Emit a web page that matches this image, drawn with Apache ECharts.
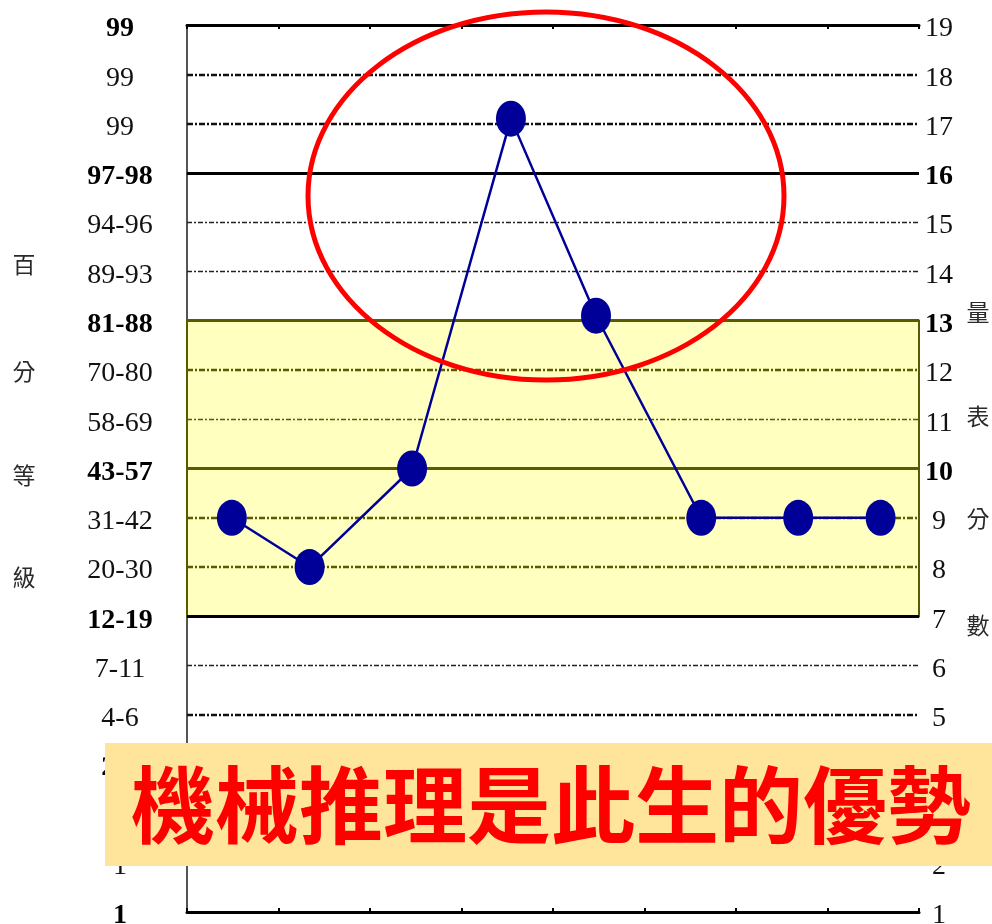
<!DOCTYPE html>
<html>
<head>
<meta charset="utf-8">
<script src="https://cdn.jsdelivr.net/npm/echarts@6/dist/echarts.min.js"></script>
<style>html,body{margin:0;padding:0;background:#fff;}#c{width:992px;height:924px;}</style>
</head>
<body>
<div id="c"></div>
<script>
// ---- data ----
const xPositions = [0.49, 1.34, 2.46, 3.54, 4.47, 5.62, 6.68, 7.58];
const scaleScores = [9, 8, 10, 17.1, 13.1, 9, 9, 9];
// percentile labels indexed by scale score - 1 (score 1..19)
const percentileLabels = ['1','1','1','2-3','4-6','7-11','12-19','20-30','31-42','43-57','58-69','70-80','81-88','89-93','94-96','97-98','99','99','99'];
const percentileBold = [1, 4, 7, 10, 13, 16, 19];
const scoreBold = [10, 13, 16];
const solidLevels = [4, 7, 10, 13, 16];
const heavyDashLevels = [18, 17, 12, 9, 8, 5, 2];
const lightDashLevels = [15, 14, 11, 6, 3];
const bandRange = [7, 13];
const leftTitle = ['百', '分', '等', '級'];
const rightTitle = ['量', '表', '分', '數'];
const banner = '機械推理是此生的優勢';

const inBand = v => v > bandRange[0] && v <= bandRange[1];
const olive = '#5a5a00';
const markLines = [];
solidLevels.forEach(v => markLines.push({yAxis: v, lineStyle: {type: 'solid', width: 3, color: inBand(v) ? olive : '#000'}}));
heavyDashLevels.forEach(v => markLines.push({yAxis: v, lineStyle: {type: [6, 2, 2, 2], width: 2.4, color: inBand(v) ? olive : '#111'}}));
lightDashLevels.forEach(v => markLines.push({yAxis: v, lineStyle: {type: [5, 2, 2, 2], width: 1.3, color: inBand(v) ? olive : '#222'}}));

const chart = echarts.init(document.getElementById('c'), null, {renderer: 'canvas'});
const serif = '"Liberation Serif", "Times New Roman", serif';
const cjk = '"Noto Sans CJK TC", "Noto Sans CJK SC", sans-serif';

const titleGraphics = [];
const leftY = [264, 371, 475, 577];
const rightY = [312, 416, 518, 625];
leftTitle.forEach((t, i) => titleGraphics.push({type: 'text', x: 24, y: leftY[i], style: {text: t, font: '23px ' + cjk, fill: '#2a2a2a', align: 'center', verticalAlign: 'middle'}}));
rightTitle.forEach((t, i) => titleGraphics.push({type: 'text', x: 978, y: rightY[i], style: {text: t, font: '23px ' + cjk, fill: '#2a2a2a', align: 'center', verticalAlign: 'middle'}}));

const richStyles = {
  b: {fontFamily: serif, fontSize: 28, fontWeight: 'bold', color: '#000', padding: [8, 0, 0, 0]},
  n: {fontFamily: serif, fontSize: 28, color: '#111', padding: [8, 0, 0, 0]}
};

chart.setOption({
  animation: false,
  backgroundColor: '#fff',
  grid: {left: 187, right: 73, top: 25, bottom: 12, containLabel: false, outerBoundsMode: 'none'},
  xAxis: [
    {type: 'value', min: 0, max: 8, interval: 1, position: 'bottom',
     axisLine: {show: true, lineStyle: {color: '#000', width: 3}},
     axisTick: {show: true, inside: true, length: 4, lineStyle: {color: '#000', width: 2}},
     axisLabel: {show: false}, splitLine: {show: false}},
    {type: 'value', min: 0, max: 8, interval: 1, position: 'top',
     axisLine: {show: true, lineStyle: {color: '#000', width: 3}},
     axisTick: {show: true, inside: true, length: 4, lineStyle: {color: '#000', width: 2}},
     axisLabel: {show: false}, splitLine: {show: false}}
  ],
  yAxis: [
    {type: 'value', min: 1, max: 19, interval: 1, position: 'left',
     axisLine: {show: true, lineStyle: {color: '#333', width: 2}},
     axisTick: {show: false}, splitLine: {show: false},
     axisLabel: {margin: 67, align: 'center',
       formatter: v => (percentileBold.includes(v) ? '{b|' : '{n|') + percentileLabels[v - 1] + '}',
       rich: richStyles}},
    {type: 'value', min: 1, max: 19, interval: 1, position: 'right',
     axisLine: {show: true, lineStyle: {color: '#555', width: 2}},
     axisTick: {show: false}, splitLine: {show: false},
     axisLabel: {margin: 20, align: 'center',
       formatter: v => (scoreBold.includes(v) ? '{b|' : '{n|') + v + '}',
       rich: richStyles}}
  ],
  series: [{
    type: 'line',
    xAxisIndex: 0, yAxisIndex: 0,
    data: xPositions.map((x, i) => [x, scaleScores[i]]),
    symbol: 'circle', symbolSize: [30, 36],
    itemStyle: {color: '#000099'},
    lineStyle: {color: '#000099', width: 2.5},
    z: 5,
    markArea: {silent: true, itemStyle: {color: '#FFFFBF', borderColor: olive, borderWidth: 2},
      data: [[{yAxis: bandRange[0]}, {yAxis: bandRange[1]}]]},
    markLine: {silent: true, symbol: ['none', 'none'], label: {show: false}, animation: false, data: markLines, z: 1}
  }],
  graphic: titleGraphics.concat([
    {type: 'ellipse', z: 100, shape: {cx: 546, cy: 196, rx: 238, ry: 184}, style: {fill: null, stroke: '#ff0000', lineWidth: 5}},
    {type: 'rect', z: 110, shape: {x: 105, y: 743, width: 887, height: 123}, style: {fill: '#FFE49B'}},
    {type: 'text', z: 111, x: 551, y: 805, style: {text: banner, font: 'bold 84px ' + cjk, fill: '#FF0000', align: 'center', verticalAlign: 'middle'}}
  ])
});
</script>
</body>
</html>
